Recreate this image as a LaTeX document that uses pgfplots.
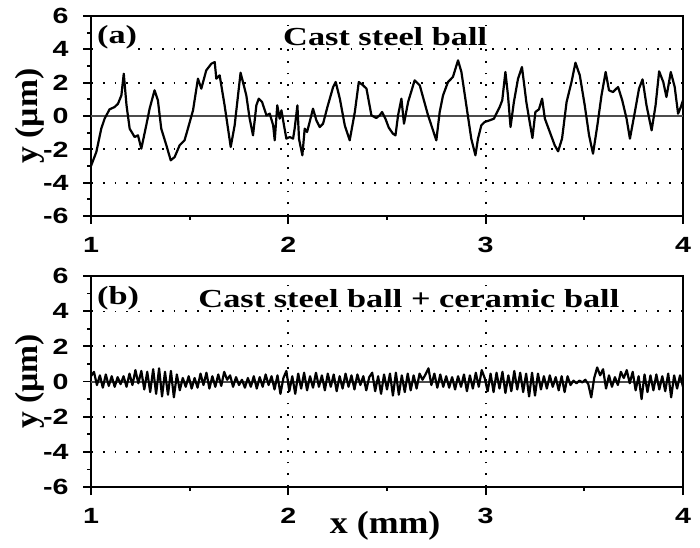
\documentclass[border=0pt]{standalone}
\usepackage{fontspec}
\setmainfont{Liberation Serif}
\newfontfamily\arial{Liberation Sans}
\usepackage{graphicx}
\usepackage{pgfplots}
\pgfplotsset{compat=1.18}

\pgfplotsset{
  panel/.style={
    scale only axis, width=296pt,
    xmin=1, xmax=4, ymin=-6, ymax=6,
    xtick={1,2,3,4}, ytick={-6,-4,...,6},
    minor x tick num=1, minor y tick num=1,
    tick align=outside, xtick pos=bottom, ytick pos=left,
    major tick length=4pt, minor tick length=2pt,
    tick style={black, line width=0.9pt},
    axis line style={line width=0.9pt},
    grid=major,
    major grid style={black, line width=0.9pt, dash pattern=on 0.9pt off 5pt},
    /pgf/number format/assume math mode=true,
    tick label style={font=\arial\bfseries\fontsize{11}{12}\selectfont, xscale=1.3},
    xticklabel style={yshift=-3pt},
    yticklabel style={xshift=-2pt},
    ylabel={\scalebox{1.05}[1]{y (µm)}},
    ylabel style={at={(axis description cs:-0.103,0.5)}, anchor=center,
      font=\bfseries\fontsize{16}{18}\selectfont},
  },
}
\tikzset{
  zeroline/.style={black!70, line width=1pt},
  trace/.style={black, line width=1.1pt, line join=round},
  ttl/.style={inner sep=0.5pt, fill=white, font=\bfseries\fontsize{13}{15}\selectfont},
}

\begin{document}
\begin{tikzpicture}
\begin{axis}[panel, name=a, height=100pt, at={(0pt,0pt)}, anchor=north west]
\addplot[zeroline] coordinates {(1,0) (4,0)};
\addplot[trace] table {
x y
1.000 -3.00
1.027 -2.16
1.052 -0.76
1.069 -0.16
1.094 0.40
1.120 0.54
1.137 0.74
1.154 1.24
1.166 2.54
1.180 0.64
1.196 -0.76
1.221 -1.26
1.238 -1.16
1.255 -1.96
1.280 -0.56
1.297 0.44
1.322 1.54
1.339 0.94
1.356 -0.76
1.382 -1.76
1.404 -2.66
1.424 -2.46
1.449 -1.76
1.474 -1.46
1.491 -0.76
1.517 0.34
1.542 2.24
1.559 1.64
1.584 2.74
1.610 3.14
1.627 3.24
1.635 2.24
1.652 2.44
1.677 0.64
1.708 -1.86
1.728 -0.56
1.758 2.60
1.787 1.24
1.804 -0.16
1.821 -1.16
1.838 0.64
1.850 1.04
1.867 0.84
1.889 0.04
1.906 0.14
1.923 -0.56
1.931 -1.46
1.944 0.64
1.956 -0.16
1.965 0.34
1.978 -0.56
1.990 -1.36
2.007 -1.26
2.024 -1.36
2.032 -0.76
2.046 0.64
2.054 -1.36
2.071 -2.36
2.083 -0.76
2.095 -0.96
2.108 -0.36
2.125 0.44
2.142 -0.26
2.159 -0.66
2.176 -0.46
2.198 0.54
2.210 1.04
2.227 1.74
2.240 2.04
2.261 1.04
2.286 -0.56
2.311 -1.46
2.337 0.24
2.357 2.04
2.379 1.84
2.396 1.64
2.421 0.04
2.446 -0.12
2.463 0.04
2.475 0.24
2.492 -0.16
2.509 -0.70
2.530 -1.06
2.543 -1.16
2.556 0.04
2.573 1.04
2.586 -0.46
2.607 0.84
2.640 2.14
2.666 1.84
2.708 0.04
2.750 -1.46
2.767 0.24
2.784 1.24
2.809 2.04
2.834 2.34
2.860 3.34
2.877 2.64
2.902 0.64
2.927 -1.36
2.948 -2.36
2.961 -1.36
2.978 -0.56
2.995 -0.36
3.020 -0.26
3.042 -0.16
3.054 0.14
3.071 0.54
3.084 0.94
3.100 2.64
3.113 1.24
3.126 -0.66
3.143 0.84
3.164 2.24
3.184 2.94
3.206 0.84
3.223 -0.36
3.237 -1.32
3.252 0.24
3.270 0.40
3.286 1.04
3.300 -0.16
3.325 -0.96
3.350 -1.76
3.367 -2.12
3.387 -1.36
3.410 0.84
3.435 2.04
3.455 3.20
3.477 2.44
3.502 0.64
3.524 -1.16
3.544 -2.26
3.566 -0.56
3.587 1.24
3.608 2.64
3.625 1.54
3.645 1.44
3.671 1.74
3.692 0.94
3.714 -0.16
3.731 -1.36
3.756 0.24
3.777 1.64
3.795 2.20
3.815 0.64
3.841 -0.86
3.861 0.64
3.879 2.68
3.900 2.04
3.916 1.14
3.938 2.64
3.958 1.74
3.975 0.14
3.989 0.54
4.000 0.94
};
\node[ttl, anchor=north west] at (rel axis cs:0.008,0.96) {\scalebox{1.32}[1]{(a)}};
\node[ttl, anchor=north] at (rel axis cs:0.497,0.95) {\scalebox{1.32}[1]{Cast steel ball}};
\end{axis}

\begin{axis}[panel, name=b, height=105.5pt, at={(0pt,-130pt)}, anchor=north west,
  xlabel={\scalebox{1.12}[1]{x (mm)}},
  xlabel style={at={(axis description cs:0.497,0)}, anchor=north, yshift=-12pt,
    inner sep=0pt, font=\bfseries\fontsize{16}{18}\selectfont}]
\addplot[zeroline] coordinates {(1,0) (4,0)};
\addplot[trace] table {
x y
1.000 0.30
1.015 0.55
1.030 -0.20
1.045 0.35
1.060 -0.35
1.075 0.40
1.090 -0.25
1.105 0.30
1.120 -0.30
1.135 0.25
1.150 -0.15
1.165 0.30
1.180 -0.30
1.195 0.45
1.210 -0.20
1.225 0.65
1.240 -0.10
1.255 0.60
1.270 -0.45
1.285 0.55
1.300 -0.60
1.315 0.70
1.330 -0.70
1.345 0.75
1.360 -0.85
1.375 0.55
1.390 -0.75
1.405 0.60
1.420 -0.90
1.435 0.40
1.450 -0.50
1.465 0.20
1.480 -0.30
1.495 0.30
1.510 -0.40
1.525 0.20
1.540 -0.35
1.555 0.45
1.570 -0.20
1.585 0.50
1.600 -0.40
1.615 0.30
1.630 -0.30
1.645 0.40
1.660 -0.25
1.675 0.55
1.690 0.10
1.705 0.35
1.720 -0.30
1.735 0.25
1.750 -0.20
1.765 0.10
1.780 -0.35
1.795 0.20
1.810 -0.30
1.825 0.30
1.840 -0.40
1.855 0.25
1.870 -0.30
1.885 0.40
1.900 -0.20
1.915 0.30
1.930 -0.45
1.945 0.35
1.960 -0.70
1.975 0.20
1.990 0.60
2.005 -0.55
2.020 0.30
2.035 -0.70
2.050 0.45
2.065 -0.40
2.080 0.50
2.095 -0.50
2.110 0.30
2.125 -0.35
2.140 0.50
2.155 -0.30
2.170 0.35
2.185 -0.50
2.200 0.45
2.215 -0.30
2.230 0.40
2.245 -0.55
2.260 0.30
2.275 -0.40
2.290 0.45
2.305 -0.30
2.320 0.35
2.335 -0.45
2.350 0.40
2.365 -0.20
2.380 0.30
2.395 -0.50
2.410 0.25
2.425 0.50
2.440 -0.55
2.455 0.30
2.470 -0.70
2.485 0.40
2.500 -0.45
2.515 0.45
2.530 -0.80
2.545 0.50
2.560 -0.75
2.575 0.35
2.590 -0.60
2.605 0.45
2.620 -0.50
2.635 0.35
2.650 -0.40
2.665 0.45
2.680 0.10
2.695 0.40
2.710 0.75
2.725 -0.20
2.740 0.45
2.755 -0.35
2.770 0.40
2.785 -0.30
2.800 0.30
2.815 -0.35
2.830 0.25
2.845 -0.45
2.860 0.30
2.875 -0.30
2.890 0.40
2.905 -0.55
2.920 0.35
2.935 -0.40
2.950 0.50
2.965 -0.30
2.980 0.65
2.995 0.20
3.010 -0.55
3.025 0.45
3.040 -0.60
3.055 0.50
3.070 -0.40
3.085 0.55
3.100 -0.65
3.115 0.35
3.130 -0.55
3.145 0.60
3.160 -0.45
3.175 0.50
3.190 -0.60
3.205 0.45
3.220 -0.85
3.235 0.50
3.250 -0.80
3.265 0.45
3.280 -0.45
3.295 0.30
3.310 -0.40
3.325 0.35
3.340 -0.30
3.355 0.25
3.370 -0.50
3.385 0.30
3.400 -0.60
3.415 0.30
3.430 -0.20
3.445 0.05
3.460 -0.10
3.475 0.05
3.490 -0.05
3.505 0.10
3.520 -0.15
3.535 -0.90
3.550 0.20
3.565 0.80
3.580 0.35
3.595 0.70
3.610 -0.40
3.625 0.35
3.640 -0.30
3.655 0.25
3.670 -0.20
3.685 0.55
3.700 0.20
3.715 0.65
3.730 -0.10
3.745 0.55
3.760 -0.50
3.775 0.30
3.790 -1.00
3.805 0.40
3.820 -0.60
3.835 0.35
3.850 -0.50
3.865 0.40
3.880 -0.45
3.895 0.30
3.910 -0.55
3.925 0.45
3.940 -0.90
3.955 0.35
3.970 -0.40
3.985 0.35
4.000 -0.30
};
\node[ttl, anchor=north west] at (rel axis cs:0.008,0.955) {\scalebox{1.32}[1]{(b)}};
\node[ttl, anchor=north] at (rel axis cs:0.537,0.945) {\scalebox{1.32}[1]{Cast steel ball + ceramic ball}};
\end{axis}
\pgfresetboundingbox
\path[use as bounding box] (a.north west) ++(-45.5pt,8pt) rectangle ++(350pt,-273.5pt);
\end{tikzpicture}
\end{document}
